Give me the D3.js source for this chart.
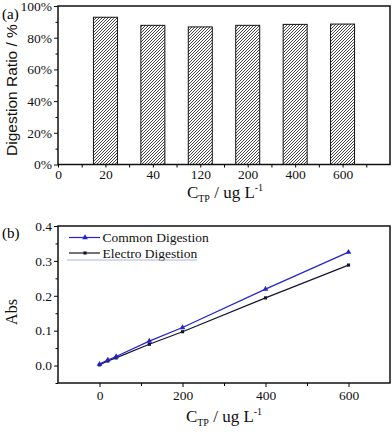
<!DOCTYPE html>
<html><head><meta charset="utf-8">
<script src="https://cdn.jsdelivr.net/npm/d3@7"></script>
<style>body{margin:0;background:#fff}svg{display:block}</style>
</head><body>
<script>
// ---- data ----
const categories = ["20", "40", "120", "200", "400", "600"];
const digestionRatio = [92.9, 87.8, 86.8, 87.8, 88.4, 88.6];
const ratioTicks = [0, 20, 40, 60, 80, 100];

const concentrations = [0, 20, 40, 120, 200, 400, 600];
const commonDigestion = [0.004, 0.016, 0.026, 0.070, 0.109, 0.219, 0.325];
const electroDigestion = [0.002, 0.013, 0.022, 0.061, 0.097, 0.194, 0.288];
const absTicks = [0.0, 0.1, 0.2, 0.3, 0.4];
const concTicks = [0, 200, 400, 600];

const W = 392, H = 433;
const svg = d3.select("body").append("svg").attr("width", W).attr("height", H);
const serif = "'Liberation Serif','Times New Roman',serif";
const sans = "'Liberation Sans',Arial,sans-serif";

const defs = svg.append("defs");
const pat = defs.append("pattern").attr("id", "hatch").attr("patternUnits", "userSpaceOnUse")
  .attr("width", 3).attr("height", 3);
pat.append("rect").attr("width", 3).attr("height", 3).attr("fill", "#fff");
pat.append("path").attr("d", "M-1,1 L1,-1 M0,3 L3,0 M2,4 L4,2")
  .attr("stroke", "#333").attr("stroke-width", 0.9);

// ---------- Panel (a) ----------
const a = {l: 58, r: 390, t: 6, b: 164.5};
const xa = d3.scaleLinear().domain([0, 7]).range([a.l, a.r]);
const ya = d3.scaleLinear().domain([0, 100]).range([a.b, a.t]);
const ga = svg.append("g");

ga.selectAll("rect.bar").data(categories).join("rect").attr("class", "bar")
  .attr("x", (d, i) => xa(i + 1) - 12).attr("width", 24)
  .attr("y", (d, i) => ya(digestionRatio[i]))
  .attr("height", (d, i) => ya(0) - ya(digestionRatio[i]))
  .attr("fill", "url(#hatch)").attr("stroke", "#111").attr("stroke-width", 1);

// y axis
const yAxA = d3.axisLeft(ya).tickValues(ratioTicks).tickSize(4).tickFormat(d => d + "%");
ga.append("g").attr("transform", `translate(${a.l},0)`).call(yAxA)
  .call(g => g.select(".domain").remove())
  .call(g => g.selectAll("text").attr("font-family", serif).attr("font-size", 13.5).attr("fill", "#111").attr("dx", 1))
  .call(g => g.selectAll("line").attr("stroke", "#111"));
ga.append("g").attr("transform", `translate(${a.l},0)`)
  .call(d3.axisLeft(ya).tickValues(d3.range(10, 100, 20)).tickSize(2.5).tickFormat(""))
  .call(g => g.select(".domain").remove());
// x axis
const xTickVals = d3.range(0, 7);
const xLabels = ["0"].concat(categories);
ga.append("g").attr("transform", `translate(0,${a.b})`)
  .call(d3.axisBottom(xa).tickValues(xTickVals).tickSize(3).tickFormat((d, i) => xLabels[i]))
  .call(g => g.select(".domain").remove())
  .call(g => g.selectAll("text").attr("font-family", serif).attr("font-size", 13.5).attr("fill", "#111").attr("dy", "0.6em"));
ga.append("g").attr("transform", `translate(0,${a.b})`)
  .call(d3.axisBottom(xa).tickValues(d3.range(0.5, 7, 1)).tickSize(3).tickFormat(""))
  .call(g => g.select(".domain").remove());
ga.append("rect").attr("x", a.l).attr("y", a.t).attr("width", a.r - a.l).attr("height", a.b - a.t)
  .attr("fill", "none").attr("stroke", "#111").attr("stroke-width", 1.5);

ga.append("text").attr("x", 2).attr("y", 19).attr("font-family", serif).attr("font-size", 15).text("(a)");
ga.append("text").attr("transform", `translate(17,90) rotate(-90)`)
  .attr("text-anchor", "middle").attr("font-family", sans).attr("font-size", 15.5).attr("fill", "#111")
  .text("Digestion Ratio / %");

function xTitle(g, cx, y) {
  const t = g.append("text").attr("x", cx).attr("y", y).attr("text-anchor", "middle")
    .attr("font-family", serif).attr("font-size", 17).attr("fill", "#111");
  t.append("tspan").text("C");
  t.append("tspan").attr("font-size", 10).attr("dy", 4).text("TP");
  t.append("tspan").attr("dy", -4).text(" / ug L");
  t.append("tspan").attr("font-size", 10).attr("dy", -7).text("-1");
}
xTitle(ga, 225, 198);

// ---------- Panel (b) ----------
const b = {l: 58, r: 390, t: 226, b: 383};
const xb = d3.scaleLinear().domain([-100, 700]).range([b.l, b.r]);
const yb = d3.scaleLinear().domain([-0.05, 0.4]).range([b.b, b.t]);
const gb = svg.append("g");

gb.append("g").attr("transform", `translate(${b.l},0)`)
  .call(d3.axisLeft(yb).tickValues(absTicks).tickSize(4).tickFormat(d3.format(".1f")))
  .call(g => g.select(".domain").remove())
  .call(g => g.selectAll("text").attr("font-family", serif).attr("font-size", 13.5).attr("fill", "#111").attr("dx", 1));
gb.append("g").attr("transform", `translate(${b.l},0)`)
  .call(d3.axisLeft(yb).tickValues([-0.05, 0.05, 0.15, 0.25, 0.35]).tickSize(2.5).tickFormat(""))
  .call(g => g.select(".domain").remove());
gb.append("g").attr("transform", `translate(0,${b.b})`)
  .call(d3.axisBottom(xb).tickValues(concTicks).tickSize(4).tickFormat(d3.format("d")))
  .call(g => g.select(".domain").remove())
  .call(g => g.selectAll("text").attr("font-family", serif).attr("font-size", 13.5).attr("fill", "#111").attr("dy", "0.75em"));
gb.append("g").attr("transform", `translate(0,${b.b})`)
  .call(d3.axisBottom(xb).tickValues([100, 300, 500]).tickSize(3).tickFormat(""))
  .call(g => g.select(".domain").remove());

const blue = "#2424c8", dark = "#151530";
const line = d3.line().x(d => xb(d[0])).y(d => yb(d[1]));
const sC = concentrations.map((c, i) => [c, commonDigestion[i]]);
const sE = concentrations.map((c, i) => [c, electroDigestion[i]]);
gb.append("path").datum(sE).attr("d", line).attr("fill", "none").attr("stroke", dark).attr("stroke-width", 1.2);
gb.append("path").datum(sC).attr("d", line).attr("fill", "none").attr("stroke", blue).attr("stroke-width", 1.2);
const tri = d3.symbol().type(d3.symbolTriangle).size(14);
const sq = d3.symbol().type(d3.symbolSquare).size(10);
gb.selectAll("path.sqm").data(sE).join("path").attr("class", "sqm").attr("d", sq)
  .attr("transform", d => `translate(${xb(d[0])},${yb(d[1])})`).attr("fill", dark);
gb.selectAll("path.trim").data(sC).join("path").attr("class", "trim").attr("d", tri)
  .attr("transform", d => `translate(${xb(d[0])},${yb(d[1])})`).attr("fill", blue);

gb.append("rect").attr("x", b.l).attr("y", b.t).attr("width", b.r - b.l).attr("height", b.b - b.t)
  .attr("fill", "none").attr("stroke", "#111").attr("stroke-width", 1.5);

// legend
const leg = gb.append("g");
const legItems = [["Common Digestion", blue, tri, 237.5], ["Electro Digestion", dark, sq, 253]];
legItems.forEach(([name, col, sym, y]) => {
  leg.append("line").attr("x1", 69).attr("x2", 100).attr("y1", y).attr("y2", y).attr("stroke", col).attr("stroke-width", 1.2);
  leg.append("path").attr("d", sym).attr("transform", `translate(85,${y})`).attr("fill", col);
  leg.append("text").attr("x", 102.5).attr("y", y + 4.5).attr("font-family", serif).attr("font-size", 13.5).attr("fill", "#111").text(name);
});
leg.append("line").attr("x1", 67).attr("x2", 197).attr("y1", 260).attr("y2", 260).attr("stroke", "#aab4d8").attr("stroke-width", 1);

gb.append("text").attr("x", 2).attr("y", 238).attr("font-family", serif).attr("font-size", 15).text("(b)");
gb.append("text").attr("transform", `translate(17,${312}) rotate(-90)`)
  .attr("text-anchor", "middle").attr("font-family", serif).attr("font-size", 16).attr("fill", "#111").text("Abs");
xTitle(gb, 224, 422);
</script>
</body></html>
